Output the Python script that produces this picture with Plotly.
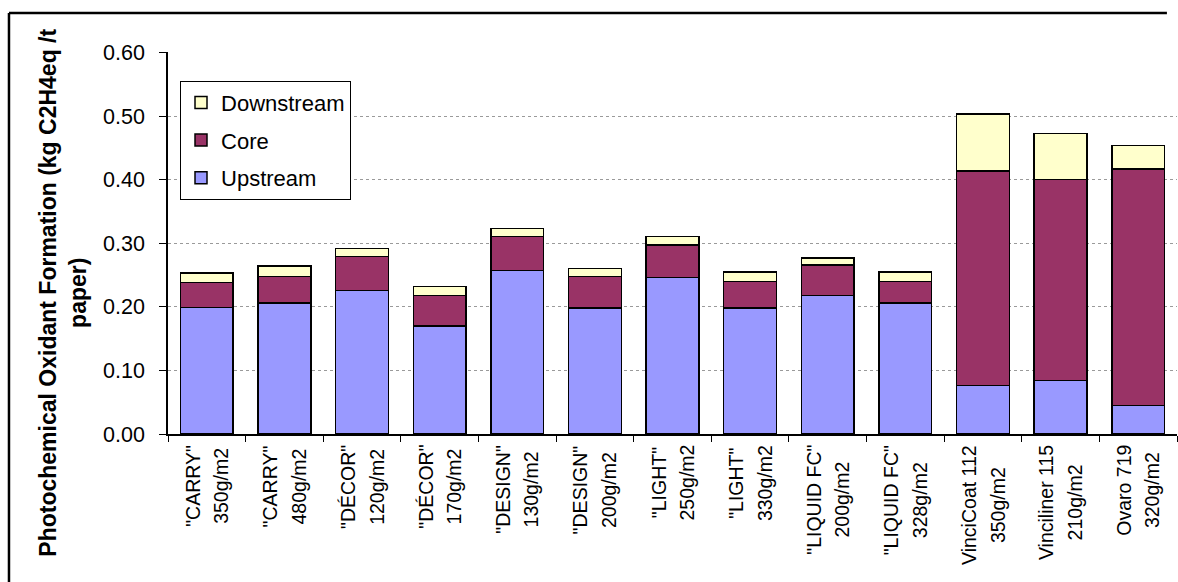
import plotly.graph_objects as go

# Product names (first label line) and grammage (second label line)
product_names = ['"CARRY"', '"CARRY"', '"DÉCOR"', '"DÉCOR"', '"DESIGN"', '"DESIGN"',
                 '"LIGHT"', '"LIGHT"', '"LIQUID FC"', '"LIQUID FC"',
                 'VinciCoat 112', 'Vinciliner 115', 'Ovaro 719']
grammages = ['350g/m2', '480g/m2', '120g/m2', '170g/m2', '130g/m2', '200g/m2',
             '250g/m2', '330g/m2', '200g/m2', '328g/m2', '350g/m2', '210g/m2', '320g/m2']

# Life-cycle stage contributions (kg C2H4eq / t paper)
upstream = [0.199, 0.206, 0.226, 0.170, 0.257, 0.198, 0.246, 0.198, 0.218, 0.206, 0.076, 0.084, 0.045]
core = [0.039, 0.042, 0.053, 0.048, 0.054, 0.050, 0.051, 0.042, 0.048, 0.034, 0.338, 0.316, 0.372]
downstream = [0.015, 0.016, 0.013, 0.014, 0.012, 0.012, 0.014, 0.015, 0.011, 0.015, 0.089, 0.073, 0.037]

y_ticks = [0.0, 0.1, 0.2, 0.3, 0.4, 0.5, 0.6]
y_title_line1 = "Photochemical Oxidant Formation (kg C2H4eq /t"
y_title_line2 = "paper)"

categories = [f"{a} {b}" for a, b in zip(product_names, grammages)]

FONT = "Liberation Sans, Arial, sans-serif"
outline = dict(color="black", width=1.5)

fig = go.Figure()
fig.add_trace(go.Bar(x=categories, y=upstream, name="Upstream", legendgroup="up", legendrank=3,
                     marker=dict(color="#9999FF", line=outline)))
fig.add_trace(go.Bar(x=categories, y=core, name="Core", legendgroup="core", legendrank=2,
                     marker=dict(color="#993366", line=outline)))
fig.add_trace(go.Bar(x=categories, y=downstream, name="Downstream", legendgroup="down", legendrank=1,
                     marker=dict(color="#FFFFCC", line=outline)))

# Two-line category labels, rotated and centred under each bar
for cat, a, b in zip(categories, product_names, grammages):
    fig.add_annotation(
        x=cat, xref="x", y=0, yref="paper", yshift=-9,
        text=f'<span style="font-size:19.5px">{a}</span><br><span style="font-size:19.5px">{b}</span>',
        textangle=-90, xanchor="center", yanchor="top", align="center",
        showarrow=False, font=dict(family=FONT, size=22, color="black"),
    )

# Y-axis title
fig.add_annotation(
    x=0, xref="paper", xshift=-105, y=0.37, yref="paper",
    text=f"<b>{y_title_line1}</b><br><b>{y_title_line2}</b>",
    textangle=-90, xanchor="center", yanchor="middle", align="center",
    showarrow=False, font=dict(family=FONT, size=23, color="black"),
)

# Outer chart frame: left and top edges
frame = dict(color="black", width=2.5)
fig.add_shape(type="line", xref="paper", yref="paper",
              x0=-0.1576, x1=-0.1576, y0=-0.4, y1=1.102, line=frame, layer="above")
fig.add_shape(type="line", xref="paper", yref="paper",
              x0=-0.1576, x1=0.99, y0=1.102, y1=1.102, line=frame, layer="above")

fig.update_layout(
    width=1178, height=582,
    margin=dict(l=168, r=1, t=52, b=148),
    barmode="stack", bargap=0.32,
    paper_bgcolor="white", plot_bgcolor="white",
    font=dict(family=FONT, size=21, color="black"),
    showlegend=True,
    legend=dict(
        x=0.0119, y=0.925, xanchor="left", yanchor="top",
        traceorder="grouped", tracegroupgap=6,
        bgcolor="white", bordercolor="black", borderwidth=1,
        font=dict(family=FONT, size=22, color="black"),
    ),
)
fig.update_xaxes(
    showticklabels=False, ticks="outside", tickson="boundaries", ticklen=6,
    tickcolor="black", showline=True, linecolor="black", linewidth=1.5,
    showgrid=False, zeroline=False,
)
fig.update_yaxes(
    range=[0, 0.6008], tickvals=y_ticks, tickformat=".2f",
    ticks="outside", ticklen=7, tickcolor="black", ticklabelstandoff=10,
    showline=True, linecolor="black", linewidth=1.5,
    showgrid=True, gridcolor="#9a9a9a", griddash="dot", gridwidth=1,
    zeroline=False, tickfont=dict(family=FONT, size=21.5, color="black"),
)

fig.write_html("out.html")
